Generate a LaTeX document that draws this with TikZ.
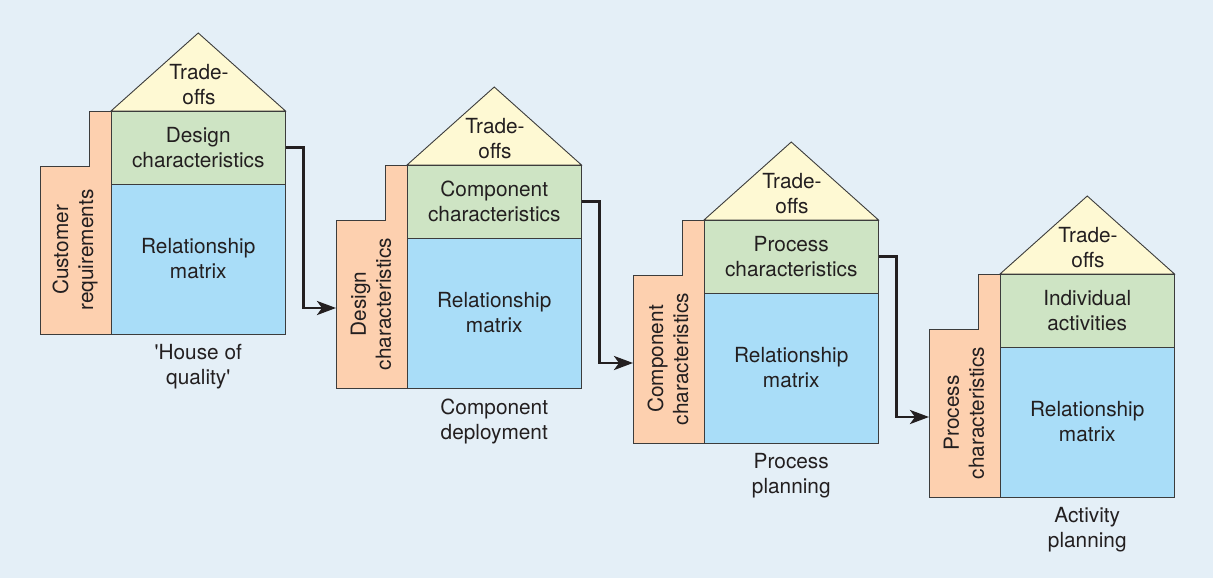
\documentclass[tikz,border=0pt]{standalone}
\usepackage{fontspec}
\setmainfont{TeX Gyre Heros}
\usetikzlibrary{arrows.meta}
\definecolor{bgc}{HTML}{E4EFF7}
\definecolor{orangec}{HTML}{FDD0AF}
\definecolor{greenc}{HTML}{CEE4C4}
\definecolor{bluec}{HTML}{A9DDF8}
\definecolor{yellowc}{HTML}{FEF9D3}
\definecolor{linec}{HTML}{3C3C3C}
\definecolor{textc}{HTML}{231F20}
\newcommand\qfdhouse[6]{%
 \begin{scope}[shift={(#2,#3)}]
  \draw[edge,fill=orangec] (-71,55) -- (-22,55) -- (-22,0) -- (0,0) -- (0,223) -- (-71,223) -- cycle;
  \draw[edge,fill=yellowc] (0,0) -- (87.25,-78) -- (174.5,0) -- cycle;
  \node[box,fill=greenc,minimum height=73pt,anchor=north west] (#1g) at (0,0) {#4};
  \node[box,fill=bluec,minimum height=150pt,anchor=north west] (#1b) at (0,73) {Relationship\\matrix};
  \node[txt] (#1t) at (88,-26.5) {Trade-\\offs};
  \node[txt,rotate=90] (#1o) at (-36,139) {#5};
  \node[txt] (#1c) at (87.25,256) {#6};
  \coordinate (#1in) at (-71,143);
 \end{scope}}
\begin{document}
\begin{tikzpicture}[x=1pt,y=-1pt,
  edge/.style={draw=linec,line width=0.9pt,line join=miter},
  txt/.style={text=textc,align=center,inner sep=0pt,font=\fontsize{20.8}{25}\selectfont},
  box/.style={edge,txt,minimum width=174.5pt,outer sep=0pt},
  flow/.style={draw=textc,line width=2.8pt,-{Stealth[length=19pt,width=14pt,inset=5pt]}}]
\fill[bgc] (0,0) rectangle (1213,578);
\useasboundingbox (0,0) rectangle (1213,578);
\qfdhouse{ha}{111}{111}{Design\\characteristics}{Customer\\requirements}{\textquotesingle House of\\quality\textquotesingle}
\qfdhouse{hb}{407}{165}{Component\\characteristics}{Design\\characteristics}{Component\\deployment}
\qfdhouse{hc}{704}{220}{Process\\characteristics}{Component\\characteristics}{Process\\planning}
\qfdhouse{hd}{1000}{274}{Individual\\activities}{Process\\characteristics}{Activity\\planning}
\draw[flow] (hag.east) -- ++(18,0) |- (hbin);
\draw[flow] (hbg.east) -- ++(18,0) |- (hcin);
\draw[flow] (hcg.east) -- ++(18,0) |- (hdin);
\end{tikzpicture}
\end{document}
